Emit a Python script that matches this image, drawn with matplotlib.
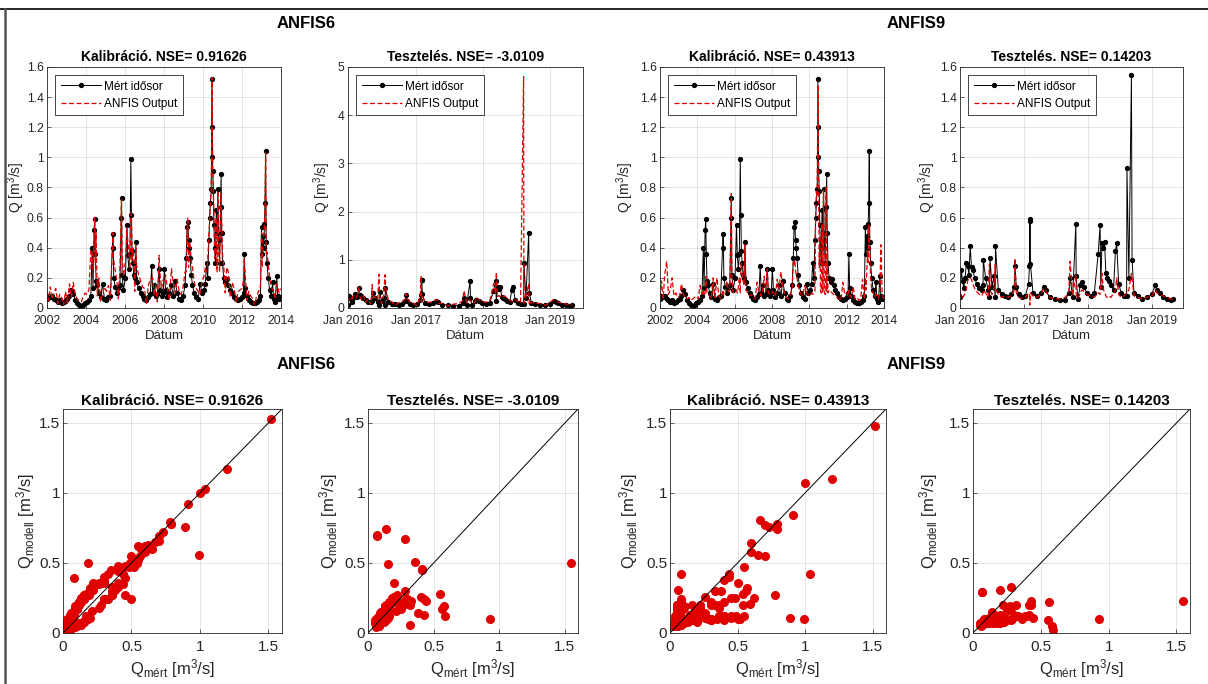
import matplotlib
matplotlib.use('Agg')
import matplotlib.pyplot as plt
import matplotlib.dates as mdates
from matplotlib.lines import Line2D
from matplotlib.ticker import FuncFormatter
from datetime import datetime, timedelta

plt.rcParams['font.family'] = 'Liberation Sans'
plt.rcParams['mathtext.fontset'] = 'custom'
plt.rcParams['mathtext.rm'] = 'Liberation Sans'
plt.rcParams['mathtext.it'] = 'Liberation Sans:italic'
plt.rcParams['mathtext.bf'] = 'Liberation Sans:bold'

# --------------------------------------------
#   kalibracio 2002-2014 (decimal year, Q mert, ANFIS6, ANFIS9)
# --------------------------------------------
cal_t = [2002.00, 2002.08, 2002.17, 2002.25, 2002.36, 2002.45, 2002.55, 2002.65, 2002.75, 2002.85, 2002.95,
         2003.05, 2003.15, 2003.25, 2003.35, 2003.45, 2003.55, 2003.65, 2003.75, 2003.85, 2003.95,
         2004.05, 2004.15, 2004.25, 2004.32, 2004.36, 2004.42, 2004.45, 2004.48, 2004.52, 2004.58, 2004.66, 2004.75, 2004.85, 2004.95,
         2005.05, 2005.15, 2005.25, 2005.38, 2005.40, 2005.42, 2005.50, 2005.58, 2005.66, 2005.74, 2005.80, 2005.82, 2005.85, 2005.92,
         2006.02, 2006.10, 2006.14, 2006.20, 2006.25, 2006.30, 2006.33, 2006.36, 2006.40, 2006.45, 2006.50, 2006.55, 2006.60, 2006.70, 2006.80, 2006.90,
         2007.00, 2007.10, 2007.20, 2007.30, 2007.37, 2007.42, 2007.50, 2007.58, 2007.66, 2007.75, 2007.80, 2007.88, 2007.96,
         2008.02, 2008.08, 2008.18, 2008.28, 2008.38, 2008.48, 2008.58, 2008.68, 2008.78, 2008.88, 2008.98,
         2009.08, 2009.14, 2009.18, 2009.22, 2009.26, 2009.30, 2009.34, 2009.40, 2009.46, 2009.55, 2009.65, 2009.75, 2009.85, 2009.95,
         2010.05, 2010.12, 2010.18, 2010.24, 2010.30, 2010.34, 2010.38, 2010.42, 2010.44, 2010.46, 2010.48, 2010.50, 2010.53, 2010.56,
         2010.60, 2010.64, 2010.68, 2010.72, 2010.76, 2010.80, 2010.85, 2010.90, 2010.93, 2010.96,
         2011.00, 2011.06, 2011.14, 2011.22, 2011.30, 2011.40, 2011.50, 2011.60, 2011.70, 2011.80, 2011.90,
         2012.00, 2012.08, 2012.12, 2012.16, 2012.25, 2012.35, 2012.45, 2012.55, 2012.65, 2012.75, 2012.85, 2012.95,
         2013.00, 2013.04, 2013.08, 2013.12, 2013.15, 2013.18, 2013.21, 2013.24, 2013.28, 2013.34, 2013.42, 2013.50, 2013.57,
         2013.62, 2013.70, 2013.78, 2013.83, 2013.90, 2013.97]
cal_meas = [0.06, 0.08, 0.07, 0.08, 0.06, 0.05, 0.04, 0.05, 0.03, 0.04, 0.05,
            0.06, 0.08, 0.12, 0.09, 0.05, 0.03, 0.02, 0.01, 0.02, 0.03,
            0.04, 0.05, 0.08, 0.40, 0.13, 0.52, 0.59, 0.36, 0.18, 0.15, 0.10, 0.07, 0.16, 0.06,
            0.05, 0.07, 0.08, 0.49, 0.40, 0.20, 0.14, 0.10, 0.13, 0.15, 0.60, 0.73, 0.22, 0.12,
            0.20, 0.55, 0.35, 0.26, 0.36, 0.99, 0.62, 0.38, 0.30, 0.22, 0.20, 0.44, 0.17, 0.13, 0.10, 0.08,
            0.06, 0.05, 0.07, 0.09, 0.28, 0.10, 0.15, 0.08, 0.09, 0.26, 0.12, 0.08, 0.10,
            0.26, 0.12, 0.07, 0.10, 0.15, 0.08, 0.18, 0.10, 0.06, 0.05, 0.08,
            0.15, 0.33, 0.54, 0.57, 0.45, 0.40, 0.33, 0.22, 0.15, 0.10, 0.07, 0.06, 0.16, 0.10,
            0.12, 0.16, 0.30, 0.20, 0.45, 0.60, 0.70, 0.79, 1.00, 1.52, 1.20, 0.91, 0.78, 0.55,
            0.40, 0.30, 0.65, 0.50, 0.79, 0.45, 0.30, 0.67, 0.89, 0.50,
            0.30, 0.20, 0.17, 0.19, 0.15, 0.12, 0.10, 0.07, 0.06, 0.05, 0.06,
            0.07, 0.10, 0.36, 0.13, 0.08, 0.05, 0.04, 0.03, 0.03, 0.04, 0.05, 0.08,
            0.54, 0.36, 0.48, 0.40, 0.56, 0.70, 1.04, 0.44, 0.30, 0.20, 0.12, 0.08, 0.17,
            0.06, 0.04, 0.21, 0.08, 0.06, 0.07]
cal_anfis6 = [0.12, 0.05, 0.14, 0.06, 0.10, 0.13, 0.03, 0.09, 0.07, 0.02, 0.11,
              0.03, 0.16, 0.07, 0.17, 0.09, 0.06, 0.05, 0.04, 0.07, 0.10,
              0.09, 0.12, 0.39, 0.36, 0.25, 0.47, 0.60, 0.30, 0.50, 0.08, 0.20, 0.04, 0.09, 0.14,
              0.11, 0.15, 0.05, 0.50, 0.34, 0.32, 0.25, 0.18, 0.06, 0.27, 0.62, 0.72, 0.36, 0.21,
              0.31, 0.52, 0.45, 0.36, 0.27, 0.56, 0.63, 0.31, 0.40, 0.33, 0.11, 0.42, 0.28, 0.22, 0.18, 0.14,
              0.13, 0.03, 0.15, 0.19, 0.20, 0.20, 0.08, 0.15, 0.04, 0.35, 0.22, 0.13, 0.19,
              0.18, 0.22, 0.13, 0.05, 0.26, 0.16, 0.10, 0.19, 0.11, 0.09, 0.14,
              0.24, 0.24, 0.50, 0.60, 0.27, 0.44, 0.42, 0.31, 0.27, 0.17, 0.13, 0.11, 0.09, 0.18,
              0.21, 0.27, 0.24, 0.31, 0.48, 0.58, 0.69, 0.78, 1.00, 1.53, 1.17, 0.92, 0.79, 0.62,
              0.33, 0.37, 0.60, 0.24, 0.78, 0.39, 0.24, 0.65, 0.76, 0.55,
              0.36, 0.29, 0.10, 0.27, 0.24, 0.07, 0.17, 0.13, 0.04, 0.11, 0.12,
              0.13, 0.18, 0.33, 0.23, 0.05, 0.11, 0.08, 0.06, 0.02, 0.08, 0.11, 0.15,
              0.50, 0.27, 0.47, 0.48, 0.55, 0.66, 1.03, 0.35, 0.37, 0.30, 0.20, 0.14, 0.12,
              0.12, 0.07, 0.16, 0.14, 0.10, 0.13]
cal_anfis9 = [0.07, 0.18, 0.06, 0.22, 0.31, 0.09, 0.12, 0.20, 0.08, 0.10, 0.07,
              0.08, 0.16, 0.09, 0.07, 0.06, 0.07, 0.05, 0.06, 0.07, 0.08,
              0.06, 0.15, 0.09, 0.12, 0.08, 0.10, 0.21, 0.18, 0.10, 0.09, 0.08, 0.06, 0.20, 0.07,
              0.20, 0.08, 0.06, 0.12, 0.09, 0.08, 0.10, 0.18, 0.11, 0.13, 0.58, 0.76, 0.20, 0.10,
              0.12, 0.12, 0.10, 0.14, 0.20, 0.10, 0.25, 0.30, 0.22, 0.18, 0.15, 0.42, 0.12, 0.10, 0.08, 0.09,
              0.07, 0.06, 0.17, 0.10, 0.10, 0.08, 0.12, 0.21, 0.11, 0.26, 0.10, 0.09, 0.09,
              0.11, 0.10, 0.08, 0.19, 0.13, 0.24, 0.14, 0.09, 0.07, 0.06, 0.09,
              0.12, 0.30, 0.28, 0.32, 0.25, 0.22, 0.20, 0.15, 0.12, 0.09, 0.08, 0.15, 0.10, 0.09,
              0.08, 0.10, 0.09, 0.10, 0.11, 0.64, 0.77, 0.74, 1.07, 1.48, 1.10, 0.84, 0.27, 0.47,
              0.12, 0.10, 0.56, 0.10, 0.78, 0.12, 0.09, 0.81, 0.11, 0.36,
              0.10, 0.12, 0.11, 0.10, 0.09, 0.08, 0.07, 0.06, 0.05, 0.17, 0.09,
              0.10, 0.08, 0.12, 0.09, 0.07, 0.14, 0.06, 0.07, 0.05, 0.06, 0.19, 0.06,
              0.20, 0.12, 0.25, 0.38, 0.30, 0.55, 0.42, 0.40, 0.20, 0.12, 0.10, 0.07, 0.09,
              0.08, 0.06, 0.12, 0.42, 0.10, 0.06]

# --------------------------------------------
#   teszteles 2016-2019
# --------------------------------------------
test_t = [2016.00, 2016.02, 2016.04, 2016.06, 2016.08, 2016.10, 2016.12, 2016.14, 2016.16, 2016.18, 2016.20,
          2016.23, 2016.26, 2016.30, 2016.34, 2016.36, 2016.365, 2016.40, 2016.44, 2016.46, 2016.47, 2016.50,
          2016.53, 2016.55, 2016.555, 2016.60, 2016.65, 2016.70, 2016.75, 2016.80, 2016.85, 2016.86, 2016.88,
          2016.92, 2016.97, 2017.02, 2017.07, 2017.085, 2017.09, 2017.095, 2017.10, 2017.14, 2017.20, 2017.26,
          2017.31, 2017.34, 2017.40, 2017.48, 2017.56, 2017.64, 2017.70, 2017.72, 2017.76, 2017.81, 2017.815,
          2017.84, 2017.88, 2017.90, 2017.94, 2017.98, 2018.04, 2018.10, 2018.16, 2018.19, 2018.20, 2018.22,
          2018.24, 2018.26, 2018.28, 2018.30, 2018.33, 2018.36, 2018.40, 2018.43, 2018.45, 2018.48, 2018.52,
          2018.56, 2018.605, 2018.61, 2018.64, 2018.68, 2018.69, 2018.72, 2018.78, 2018.85, 2018.92, 2019.00,
          2019.05, 2019.08, 2019.12, 2019.18, 2019.24, 2019.30, 2019.33]
test_meas = [0.07, 0.25, 0.18, 0.13, 0.20, 0.30, 0.28, 0.22, 0.41, 0.27, 0.25,
             0.20, 0.16, 0.13, 0.12, 0.15, 0.32, 0.20, 0.12, 0.07, 0.33, 0.14,
             0.21, 0.07, 0.41, 0.12, 0.09, 0.08, 0.07, 0.09, 0.14, 0.28, 0.14,
             0.09, 0.07, 0.08, 0.16, 0.28, 0.59, 0.58, 0.29, 0.10, 0.08, 0.10,
             0.14, 0.12, 0.07, 0.06, 0.05, 0.05, 0.10, 0.20, 0.07, 0.56, 0.21,
             0.06, 0.15, 0.17, 0.14, 0.10, 0.08, 0.10, 0.36, 0.55, 0.14, 0.43,
             0.40, 0.44, 0.23, 0.20, 0.18, 0.15, 0.12, 0.38, 0.43, 0.16, 0.10,
             0.08, 0.08, 0.93, 0.20, 1.55, 0.32, 0.10, 0.08, 0.06, 0.07, 0.09,
             0.15, 0.12, 0.10, 0.07, 0.06, 0.05, 0.06]
test_anfis6 = [0.10, 0.18, 0.22, 0.19, 0.26, 0.24, 0.21, 0.27, 0.45, 0.22, 0.17,
               0.26, 0.12, 0.19, 0.08, 0.49, 0.20, 0.23, 0.16, 0.70, 0.23, 0.09,
               0.26, 0.69, 0.46, 0.15, 0.13, 0.05, 0.11, 0.14, 0.18, 0.30, 0.20,
               0.12, 0.10, 0.05, 0.22, 0.67, 0.12, 0.19, 0.24, 0.15, 0.11, 0.14,
               0.18, 0.09, 0.10, 0.04, 0.08, 0.09, 0.15, 0.36, 0.10, 0.17, 0.16,
               0.09, 0.11, 0.22, 0.18, 0.14, 0.12, 0.13, 0.51, 0.28, 0.74, 0.24,
               0.26, 0.23, 0.21, 0.24, 0.25, 0.19, 0.16, 0.14, 0.13, 0.18, 0.13,
               0.11, 4.80, 0.10, 0.24, 0.50, 0.06, 0.12, 0.10, 0.09, 0.05, 0.12,
               0.17, 0.15, 0.12, 0.10, 0.08, 0.07, 0.06]
test_anfis9 = [0.06, 0.09, 0.07, 0.08, 0.10, 0.13, 0.18, 0.20, 0.20, 0.19, 0.16,
               0.13, 0.11, 0.09, 0.08, 0.10, 0.12, 0.10, 0.07, 0.29, 0.12, 0.09,
               0.12, 0.29, 0.13, 0.09, 0.07, 0.08, 0.07, 0.08, 0.12, 0.33, 0.10,
               0.07, 0.06, 0.07, 0.10, 0.09, 0.02, 0.05, 0.10, 0.08, 0.07, 0.09,
               0.13, 0.11, 0.07, 0.06, 0.06, 0.07, 0.10, 0.31, 0.08, 0.22, 0.09,
               0.06, 0.10, 0.12, 0.11, 0.09, 0.08, 0.07, 0.10, 0.09, 0.15, 0.23,
               0.12, 0.11, 0.08, 0.07, 0.08, 0.07, 0.10, 0.12, 0.20, 0.09, 0.07,
               0.08, 0.10, 0.10, 0.12, 0.23, 0.20, 0.08, 0.07, 0.06, 0.07, 0.08,
               0.12, 0.10, 0.09, 0.08, 0.07, 0.06, 0.05]

TXT = '#262626'
RED = '#e00000'


def to_date(t):
    y = int(t)
    return datetime(y, 1, 1) + timedelta(days=(t - y) * 365.25)


def g(v, pos):
    return '%g' % round(v, 3)


def style(ax, fs, xpad, ypad):
    ax.grid(True, color='k', alpha=0.12, lw=0.6)
    ax.set_axisbelow(True)
    ax.tick_params(labelsize=fs, colors=TXT, direction='in', length=3, width=0.5)
    ax.tick_params(axis='x', pad=xpad)
    ax.tick_params(axis='y', pad=ypad)
    for s in ax.spines.values():
        s.set_color(TXT)
        s.set_linewidth(0.6)


def ts_panel(ax, t, meas, model, title, calib, ymax, ystep, ylab_x):
    d = [to_date(x) for x in t]
    ax.plot(d, meas, '-', color='k', lw=0.7, marker='o', ms=2.8, label='Mért idősor')
    ax.plot(d, model, color=RED, lw=0.9, dashes=(4, 2), label='ANFIS Output')
    if calib:
        ax.set_xlim(datetime(2002, 1, 1), datetime(2014, 1, 1))
        ax.xaxis.set_major_locator(mdates.YearLocator(2))
        ax.xaxis.set_major_formatter(mdates.DateFormatter('%Y'))
    else:
        ax.set_xlim(datetime(2016, 1, 1), datetime(2019, 6, 28))
        ax.xaxis.set_major_locator(mdates.YearLocator(1))
        ax.xaxis.set_major_formatter(mdates.DateFormatter('%b %Y'))
    ax.set_ylim(0, ymax)
    ax.set_yticks([i * ystep for i in range(int(round(ymax / ystep)) + 1)])
    ax.yaxis.set_major_formatter(FuncFormatter(g))
    style(ax, 8.7, 5, 2.5)
    ax.set_title(title, fontsize=10, fontweight='bold', pad=4)
    ax.set_xlabel('Dátum', fontsize=9.5, color=TXT, labelpad=2)
    ax.set_ylabel('Q [m$^3$/s]', fontsize=10, color=TXT, va='center')
    ax.yaxis.set_label_coords(ylab_x, 0.5)
    leg = ax.legend(loc='upper left', fontsize=8.5, fancybox=False, edgecolor=TXT, framealpha=1,
                    handlelength=3.4, borderaxespad=0.7, borderpad=0.45, labelspacing=0.45,
                    handletextpad=0.3)
    leg.get_frame().set_linewidth(0.6)


def sc_panel(ax, meas, model, title, ylab_x):
    ax.plot(meas, model, 'o', color=RED, mec=RED, ms=5.5)
    ax.plot([0, 1.6], [0, 1.6], color='k', lw=0.7)
    ax.set_xlim(0, 1.6)
    ax.set_ylim(0, 1.6)
    ax.set_xticks([0, 0.5, 1, 1.5])
    ax.set_yticks([0, 0.5, 1, 1.5])
    ax.xaxis.set_major_formatter(FuncFormatter(g))
    ax.yaxis.set_major_formatter(FuncFormatter(g))
    style(ax, 11, 5, 2)
    ax.set_title(title, fontsize=11, fontweight='bold', pad=3)
    ax.set_xlabel('Q$_{\\mathrm{mért}}$ [m$^3$/s]', fontsize=12, color=TXT, labelpad=2)
    ax.set_ylabel('Q$_{\\mathrm{modell}}$ [m$^3$/s]', fontsize=12, color=TXT, va='center')
    ax.yaxis.set_label_coords(ylab_x, 0.5)


W, H = 1208, 684
fig = plt.figure(figsize=(W / 100, H / 100), dpi=100)


def box(x0, y0, x1, y1):
    return [x0 / W, 1 - y1 / H, (x1 - x0) / W, (y1 - y0) / H]


ax1 = fig.add_axes(box(47, 67, 281, 308))
ax2 = fig.add_axes(box(348, 67, 583, 308))
ax3 = fig.add_axes(box(660, 67, 884, 308))
ax4 = fig.add_axes(box(960, 67, 1183, 308))
ts_panel(ax1, cal_t, cal_meas, cal_anfis6, 'Kalibráció. NSE= 0.91626', True, 1.6, 0.2, -0.132)
ts_panel(ax2, test_t, test_meas, test_anfis6, 'Tesztelés. NSE= -3.0109', False, 5, 1, -0.11)
ts_panel(ax3, cal_t, cal_meas, cal_anfis9, 'Kalibráció. NSE= 0.43913', True, 1.6, 0.2, -0.156)
ts_panel(ax4, test_t, test_meas, test_anfis9, 'Tesztelés. NSE= 0.14203', False, 1.6, 0.2, -0.148)

bx1 = fig.add_axes(box(63, 409, 282, 633))
bx2 = fig.add_axes(box(368, 409, 578, 633))
bx3 = fig.add_axes(box(670, 409, 886, 633))
bx4 = fig.add_axes(box(973, 409, 1190, 633))
sc_panel(bx1, cal_meas, cal_anfis6, 'Kalibráció. NSE= 0.91626', -0.173)
sc_panel(bx2, test_meas, test_anfis6, 'Tesztelés. NSE= -3.0109', -0.19)
sc_panel(bx3, cal_meas, cal_anfis9, 'Kalibráció. NSE= 0.43913', -0.194)
sc_panel(bx4, test_meas, test_anfis9, 'Tesztelés. NSE= 0.14203', -0.207)

for x, name in [(306, 'ANFIS6'), (916, 'ANFIS9')]:
    for y in (23, 365):
        fig.text(x / W, 1 - y / H, name, ha='center', va='center', fontsize=12, fontweight='bold')

# keret
fig.add_artist(Line2D([0, 1], [1 - 9 / H, 1 - 9 / H], color='k', lw=1.2, transform=fig.transFigure))
fig.add_artist(Line2D([4.5 / W, 4.5 / W], [0, 1 - 9 / H], color='#555555', lw=1.8, transform=fig.transFigure))

fig.savefig('out.png', dpi=100)
